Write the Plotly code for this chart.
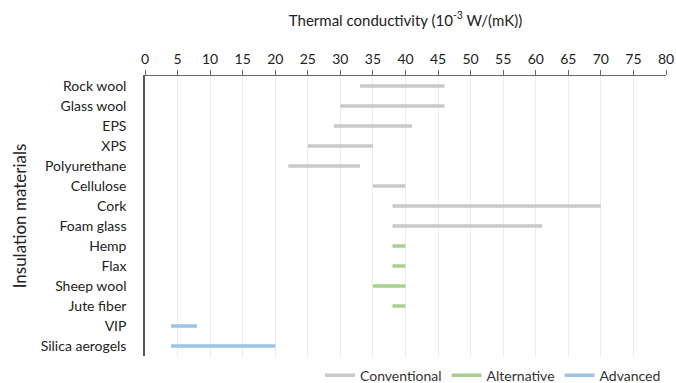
import plotly.graph_objects as go

materials = ["Rock wool", "Glass wool", "EPS", "XPS", "Polyurethane", "Cellulose", "Cork",
             "Foam glass", "Hemp", "Flax", "Sheep wool", "Jute fiber", "VIP", "Silica aerogels"]
low = [33, 30, 29, 25, 22, 35, 38, 38, 38, 38, 35, 38, 4, 4]
high = [46, 46, 41, 35, 33, 40, 70, 61, 40, 40, 40, 40, 8, 20]
group = ["Conventional"] * 8 + ["Alternative"] * 4 + ["Advanced"] * 2

groups = ["Conventional", "Alternative", "Advanced"]
colors = {"Conventional": "#c9c9c9", "Alternative": "#a9d18e", "Advanced": "#9dc3e6"}

fig = go.Figure()
for g in groups:
    xs, ys = [], []
    for m, a, b, gg in zip(materials, low, high, group):
        if gg == g:
            xs += [a, b, None]
            ys += [m, m, None]
    fig.add_trace(go.Scatter(x=xs, y=ys, mode="lines", name=g,
                             line=dict(color=colors[g], width=3.5),
                             hoverinfo="skip"))

font = "Lato, Open Sans, sans-serif"
fig.update_layout(
    width=676, height=383,
    margin=dict(l=145, r=10, t=76, b=27, autoexpand=False),
    paper_bgcolor="white", plot_bgcolor="white",
    font=dict(family=font, size=14, color="#222"),
    showlegend=True,
    legend=dict(orientation="h", x=1.0, xanchor="right", y=-0.07, yanchor="middle",
                font=dict(size=14, color="#333"), itemwidth=30, tracegroupgap=0),
    xaxis=dict(side="top", range=[0, 80], tickvals=list(range(0, 81, 5)),
               showgrid=True, gridcolor="#ececec", gridwidth=1,
               showline=True, linecolor="#666", linewidth=1,
               ticks="outside", ticklen=5, tickcolor="#666", automargin=False,
               tickfont=dict(size=14, color="#222"), zeroline=False,
               title=dict(text="Thermal conductivity (10<sup>-3</sup> W/(mK))",
                          font=dict(size=15, color="#222"), standoff=20)),
    yaxis=dict(type="category", categoryorder="array", categoryarray=materials,
               range=[13.5, -0.5], showgrid=False, automargin=False,
               showline=True, linecolor="#555", linewidth=1.5,
               ticks="", ticklabelstandoff=14, tickfont=dict(size=14, color="#222"),
               title=dict(text="Insulation materials", font=dict(size=17, color="#222"),
                          standoff=10)),
)
fig.write_html("out.html", config={"displayModeBar": False},
               post_script="document.body.style.margin='0';document.body.style.padding='0';")
